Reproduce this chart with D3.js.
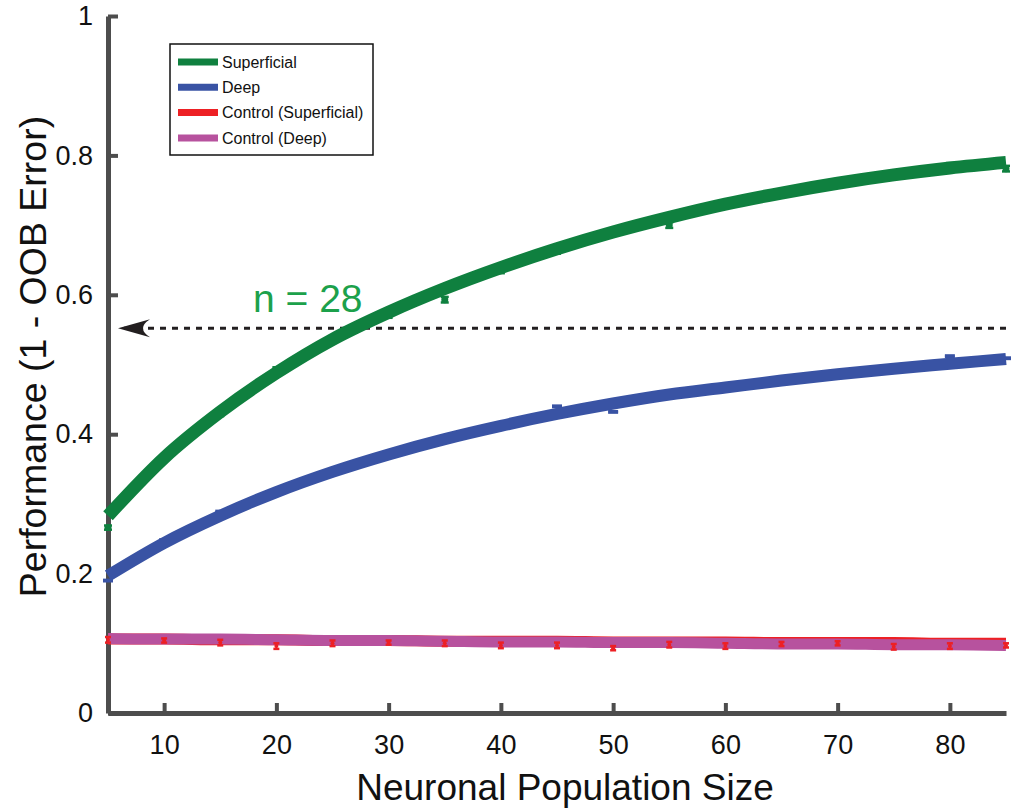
<!DOCTYPE html>
<html>
<head>
<meta charset="utf-8">
<script src="https://cdn.jsdelivr.net/npm/d3@7"></script>
<style>
  body { margin: 0; background: #fff; }
  svg { display: block; font-family: "Liberation Sans", Arial, sans-serif; }
</style>
</head>
<body>
<div id="chart"></div>
<script>
// population sizes (x)
const sizes = [5, 10, 15, 20, 25, 30, 35, 40, 45, 50, 55, 60, 65, 70, 75, 80, 85];

// fitted curves
const superFit = [0.283, 0.366, 0.432, 0.488, 0.536, 0.575, 0.609, 0.639, 0.666, 0.690, 0.711, 0.730, 0.746, 0.760, 0.772, 0.782, 0.790];
const deepFit = [0.197, 0.244, 0.283, 0.317, 0.346, 0.371, 0.393, 0.412, 0.429, 0.444, 0.457, 0.467, 0.477, 0.486, 0.494, 0.501, 0.508];
const ctrlSuperFit = [0.106, 0.106, 0.105, 0.105, 0.104, 0.104, 0.103, 0.103, 0.103, 0.102, 0.102, 0.102, 0.101, 0.101, 0.101, 0.100, 0.100];
const ctrlDeepFit = [0.107, 0.106, 0.106, 0.105, 0.104, 0.104, 0.103, 0.102, 0.102, 0.101, 0.101, 0.100, 0.099, 0.099, 0.098, 0.098, 0.097];

// measured means and errors
const superPts = [0.266, 0.367, 0.430, 0.492, 0.535, 0.571, 0.593, 0.635, 0.663, 0.690, 0.700, 0.730, 0.747, 0.762, 0.773, 0.785, 0.781];
const superErr = [0.003, 0.004, 0.004, 0.004, 0.004, 0.004, 0.004, 0.004, 0.004, 0.004, 0.004, 0.004, 0.004, 0.004, 0.004, 0.004, 0.004];
const deepPts = [0.190, 0.248, 0.289, 0.317, 0.346, 0.371, 0.393, 0.412, 0.440, 0.432, 0.457, 0.467, 0.477, 0.486, 0.494, 0.512, 0.509];
const deepErr = [0.001, 0.001, 0.001, 0.001, 0.001, 0.001, 0.001, 0.001, 0.001, 0.001, 0.001, 0.001, 0.001, 0.001, 0.001, 0.001, 0.001];
const ctrlPts = [0.105, 0.104, 0.101, 0.096, 0.100, 0.101, 0.100, 0.097, 0.097, 0.093, 0.098, 0.096, 0.099, 0.100, 0.095, 0.096, 0.097];
const ctrlErr = [0.004, 0.003, 0.004, 0.004, 0.004, 0.003, 0.004, 0.004, 0.004, 0.003, 0.004, 0.004, 0.003, 0.003, 0.004, 0.004, 0.003];

// chance / reference level and annotation
const refLevel = 0.552;
const refLabel = "n = 28";

const xTicks = [10, 20, 30, 40, 50, 60, 70, 80];
const yTicks = [0, 0.2, 0.4, 0.6, 0.8, 1];
const legendNames = ["Superficial", "Deep", "Control (Superficial)", "Control (Deep)"];

const colors = {
  sup: "#0f803f",
  deep: "#3953a4",
  ctrlSup: "#ed2024",
  ctrlDeep: "#b7529e",
  axis: "#4d4d4d"
};

const width = 1012, height = 811;

const svg = d3.select("#chart").append("svg")
  .attr("width", width)
  .attr("height", height);

const x = d3.scaleLinear().domain([5, 85]).range([108, 1006]);
const y = d3.scaleLinear().domain([0, 1]).range([713, 16]);

// axes
const xAxis = g => g
  .attr("transform", `translate(0, ${y(0)})`)
  .call(d3.axisBottom(x).tickValues(xTicks).tickFormat(d3.format("d"))
    .tickSizeInner(-10).tickSizeOuter(0).tickPadding(22))
  .call(g => g.select(".domain").attr("stroke", colors.axis).attr("stroke-width", 5))
  .call(g => g.selectAll(".tick line").attr("stroke", colors.axis).attr("stroke-width", 4))
  .call(g => g.selectAll("text").attr("fill", "#111").style("font-size", "27px"));

const yAxis = g => g
  .attr("transform", `translate(${x(5)}, 0)`)
  .call(d3.axisLeft(y).tickValues(yTicks).tickFormat(d => d === 0 || d === 1 ? d : d3.format(".1f")(d))
    .tickSizeInner(-10).tickSizeOuter(0).tickPadding(15))
  .call(g => g.select(".domain").attr("stroke", colors.axis).attr("stroke-width", 5))
  .call(g => g.selectAll(".tick line").attr("stroke", colors.axis).attr("stroke-width", 4))
  .call(g => g.selectAll("text").attr("fill", "#111").style("font-size", "27px"));

svg.append("g").call(xAxis);
svg.append("g").call(yAxis);

svg.append("text")
  .attr("x", (x(5) + x(85)) / 2 + 8)
  .attr("y", 800)
  .attr("text-anchor", "middle")
  .attr("fill", "#111")
  .style("font-size", "37px")
  .text("Neuronal Population Size");

svg.append("text")
  .attr("transform", `translate(46, ${(y(0) + y(1)) / 2 - 8}) rotate(-90)`)
  .attr("text-anchor", "middle")
  .attr("fill", "#111")
  .style("font-size", "37.5px")
  .text("Performance (1 - OOB Error)");

// reference dashed line with arrow
svg.append("line")
  .attr("x1", x(85)).attr("x2", x(5) + 14)
  .attr("y1", y(refLevel)).attr("y2", y(refLevel))
  .attr("stroke", "#231f20")
  .attr("stroke-width", 3)
  .attr("stroke-dasharray", "6,6");

svg.append("path")
  .attr("d", `M${x(5) + 10},${y(refLevel)} L${x(5) + 42},${y(refLevel) - 9} Q${x(5) + 28},${y(refLevel)} ${x(5) + 42},${y(refLevel) + 9} Z`)
  .attr("fill", "#231f20");

svg.append("text")
  .attr("x", 253)
  .attr("y", 312)
  .attr("fill", "#1ca14b")
  .style("font-size", "39px")
  .text(refLabel);

// curves
const line = d3.line()
  .x((d, i) => x(sizes[i]))
  .y(d => y(d))
  .curve(d3.curveMonotoneX);

function drawPoints(vals, errs, color, capW, r) {
  const g = svg.append("g").attr("stroke", color).attr("fill", color);
  vals.forEach((v, i) => {
    const cx = x(sizes[i]);
    const lo = y(v - errs[i]), hi = y(v + errs[i]);
    g.append("line").attr("x1", cx).attr("x2", cx).attr("y1", lo).attr("y2", hi).attr("stroke-width", 1.5);
    g.append("line").attr("x1", cx - capW / 2).attr("x2", cx + capW / 2).attr("y1", lo).attr("y2", lo).attr("stroke-width", 2.5);
    g.append("line").attr("x1", cx - capW / 2).attr("x2", cx + capW / 2).attr("y1", hi).attr("y2", hi).attr("stroke-width", 2.5);
    if (r > 0) g.append("circle").attr("cx", cx).attr("cy", y(v)).attr("r", r).attr("stroke", "none");
  });
}

svg.append("path").datum(ctrlSuperFit).attr("d", line)
  .attr("fill", "none").attr("stroke", colors.ctrlSup).attr("stroke-width", 11);
svg.append("path").datum(ctrlDeepFit).attr("d", line)
  .attr("fill", "none").attr("stroke", colors.ctrlDeep).attr("stroke-width", 11);
drawPoints(ctrlPts, ctrlErr, colors.ctrlSup, 6, 2);

drawPoints(deepPts, deepErr, colors.deep, 10, 0);
svg.append("path").datum(deepFit).attr("d", line)
  .attr("fill", "none").attr("stroke", colors.deep).attr("stroke-width", 12);

drawPoints(superPts, superErr, colors.sup, 8, 3.5);
svg.append("path").datum(superFit).attr("d", line)
  .attr("fill", "none").attr("stroke", colors.sup).attr("stroke-width", 13);

// legend
const legend = svg.append("g").attr("transform", "translate(170, 44)");
legend.append("rect")
  .attr("width", 203).attr("height", 111)
  .attr("fill", "#fff").attr("stroke", "#111").attr("stroke-width", 1.5);

const legendColors = [colors.sup, colors.deep, colors.ctrlSup, colors.ctrlDeep];
legendNames.forEach((name, i) => {
  const ly = 18 + i * 25.3;
  legend.append("line")
    .attr("x1", 8).attr("x2", 48).attr("y1", ly).attr("y2", ly)
    .attr("stroke", legendColors[i]).attr("stroke-width", 7);
  legend.append("text")
    .attr("x", 52).attr("y", ly).attr("dy", "0.36em")
    .attr("fill", "#111")
    .style("font-size", "16px")
    .text(name);
});
</script>
</body>
</html>
